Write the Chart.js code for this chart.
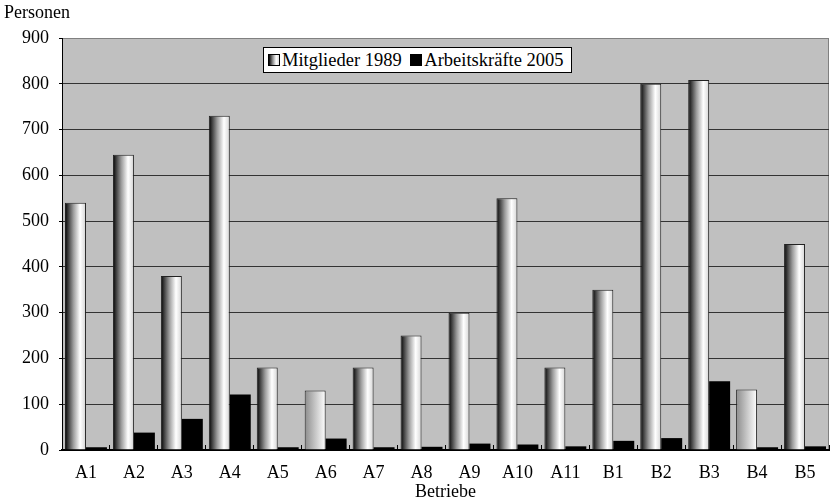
<!DOCTYPE html>
<html>
<head>
<meta charset="utf-8">
<script src="https://cdn.jsdelivr.net/npm/chart.js@4.4.1/dist/chart.umd.min.js"></script>
<style>
    body { margin: 0; background: #fff; }
    .wrap { position: relative; width: 839px; height: 500px; font-family: 'Liberation Serif', serif; }
    .ytitle { position: absolute; left: 4px; top: 2px; font-size: 18px; color: #000; }
    .legend { position: absolute; left: 263px; top: 47px; width: 307px; height: 24px; background: #fff;
              border: 1px solid #000; font-size: 18.5px; line-height: 24px; white-space: nowrap; }
    .legend span.sw { display: inline-block; width: 10px; height: 10px; border: 1px solid #000; vertical-align: 0px; margin: 0 2px 0 4px; }
    .sw.g { background: linear-gradient(to right, #000, #888 35%, #fff 72%, #ddd); }
    .sw.b { background: #000; }
</style>
</head>
<body>
<div class="wrap">
    <canvas id="barChart" width="839" height="500"></canvas>
    <div class="ytitle">Personen</div>
    <div class="legend"><span class="sw g"></span>Mitglieder 1989 <span class="sw b"></span>Arbeitskräfte 2005</div>
</div>
<script>
// Daten
const betriebe = ['A1', 'A2', 'A3', 'A4', 'A5', 'A6', 'A7', 'A8', 'A9', 'A10', 'A11', 'B1', 'B2', 'B3', 'B4', 'B5'];
const mitglieder1989 = [540, 645, 380, 730, 180, 130, 180, 250, 300, 550, 180, 350, 800, 808, 132, 450];
const arbeitskraefte2005 = [6, 38, 68, 121, 6, 25, 6, 7, 14, 12, 8, 20, 26, 150, 6, 8];
const yTicks = [0, 100, 200, 300, 400, 500, 600, 700, 800, 900];

const serif = 'Liberation Serif';
// Balken A6 und B4 sind im Original heller schattiert
const lightBars = [5, 14];

// Zylinder-Verlauf fuer die hellen Balken
function cylinder(context) {
    const chart = context.chart;
    const x = chart.scales.x;
    if (!x || x.width === undefined || context.dataIndex === undefined) return '#e0e0e0';
    const catW = x.width / betriebe.length;
    const barW = catW * 0.875 / 2;
    const center = x.getPixelForValue(context.dataIndex);
    const left = center - barW;
    const g = chart.ctx.createLinearGradient(left, 0, center, 0);
    if (lightBars.includes(context.dataIndex)) {
        g.addColorStop(0, '#8c8c8c');
        g.addColorStop(1, '#ffffff');
    } else {
        g.addColorStop(0, '#000000');
        g.addColorStop(0.15, '#3c3c3c');
        g.addColorStop(0.4, '#9c9c9c');
        g.addColorStop(0.72, '#ffffff');
        g.addColorStop(1, '#d4d4d4');
    }
    return g;
}

// grauer Hintergrund des Diagrammbereichs
const plotBackground = {
    id: 'plotBackground',
    beforeDraw(chart) {
        const {ctx, chartArea: a} = chart;
        ctx.save();
        ctx.fillStyle = '#c0c0c0';
        ctx.fillRect(a.left, a.top, a.right - a.left, a.bottom - a.top);
        ctx.strokeStyle = '#808080';
        ctx.lineWidth = 1;
        ctx.strokeRect(a.left + 0.5, a.top + 0.5, a.right - a.left - 1, a.bottom - a.top);
        ctx.restore();
    }
};

const chart = new Chart(document.getElementById('barChart'), {
    type: 'bar',
    data: {
        labels: betriebe,
        datasets: [{
            label: 'Mitglieder 1989',
            data: mitglieder1989,
            backgroundColor: cylinder,
            borderColor: '#222',
            borderWidth: 1
        }, {
            label: 'Arbeitskräfte 2005',
            data: arbeitskraefte2005,
            backgroundColor: '#000',
            borderColor: '#000',
            borderWidth: 0
        }]
    },
    options: {
        responsive: false,
        animation: false,
        devicePixelRatio: 1,
        categoryPercentage: 0.875,
        barPercentage: 1,
        layout: { padding: { top: 38, right: 10, left: 0, bottom: 0 } },
        plugins: {
            legend: { display: false },
            tooltip: { enabled: false }
        },
        scales: {
            y: {
                min: 0,
                max: 900,
                afterFit: function(scale) { scale.width = 62; },
                afterBuildTicks: function(scale) { scale.ticks = yTicks.map(v => ({ value: v })); },
                ticks: {
                    color: '#000',
                    padding: 10,
                    font: { family: serif, size: 18 }
                },
                grid: {
                    color: function(ctx) { return ctx.tick && ctx.tick.value === 900 ? '#808080' : '#333'; },
                    tickColor: '#000',
                    tickLength: 3,
                    lineWidth: 1
                },
                border: { color: '#000', width: 1 }
            },
            x: {
                afterFit: function(scale) { scale.height = 50; },
                ticks: {
                    color: '#000',
                    padding: 17,
                    font: { family: serif, size: 18 }
                },
                grid: {
                    drawOnChartArea: false,
                    tickLength: -5,
                    tickColor: '#000'
                },
                border: { color: '#000', width: 2 },
                title: {
                    display: true,
                    text: 'Betriebe',
                    color: '#000',
                    font: { family: serif, size: 18, lineHeight: 0.9 },
                    padding: { top: 0, bottom: 0 }
                }
            }
        }
    },
    plugins: [plotBackground]
});
</script>
</body>
</html>
